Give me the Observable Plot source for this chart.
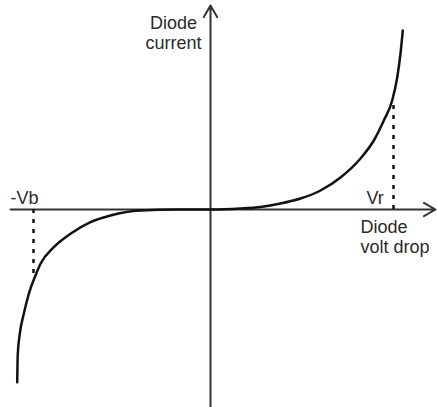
<!DOCTYPE html>
<html>
<head>
<meta charset="utf-8">
<script src="https://cdn.jsdelivr.net/npm/d3@7"></script>
<script src="https://cdn.jsdelivr.net/npm/@observablehq/plot@0.6"></script>
<style>
  html, body { margin: 0; padding: 0; background: #fff; }
  #chart svg { display: block; }
</style>
</head>
<body>
<div id="chart"></div>
<script>
// Diode characteristic (arbitrary units)
const voltage = [-19.33, -19.27, -19.07, -18.67, -18.17, -17.5, -17.0, -15.67, -14.0, -12.0, -10.0, -7.0, -3.3, 0,
                 3.0, 5.0, 7.0, 9.0, 11.0, 13.0, 15.0, 16.33, 17.33, 18.17, 18.67, 19.0, 19.23];
const current = [-17.27, -14.43, -12.43, -10.43, -8.43, -6.6, -5.43, -3.77, -2.43, -1.27, -0.6, -0.1, 0, 0,
                 0.1, 0.25, 0.6, 1.1, 1.9, 3.2, 5.1, 6.9, 8.9, 10.9, 13.2, 15.6, 17.9];
const curveData = voltage.map((v, i) => ({v, i: current[i]}));

// Marked voltages
const markerNames = ["-Vb", "Vr"];
const markerVoltage = [-17.7, 18.3];
const markerCurrent = [-6.7, 10.4];
const markers = markerNames.map((name, k) => ({name, v: markerVoltage[k], i: markerCurrent[k]}));

// Axis extents
const xAxisExtent = [-20, 22.5];
const yAxisExtent = [-19.8, 20.4];
const yAxisLabel = "Diode\ncurrent";
const xAxisLabel = "Diode\nvolt drop";

const ink = "#2a2a2a";
const font = "Liberation Sans, Arial, sans-serif";

const chart = Plot.plot({
  width: 437,
  height: 407,
  margin: 0,
  style: {background: "#fff", fontFamily: font},
  x: {domain: [-21, 22.7], axis: null},
  y: {domain: [-19.8, 20.9], axis: null},
  marks: [
    // axes with arrowheads
    Plot.arrow([{x1: xAxisExtent[0], x2: xAxisExtent[1], y1: 0, y2: 0}], {
      x1: "x1", x2: "x2", y1: "y1", y2: "y2",
      stroke: "#333", strokeWidth: 2, headLength: 10, headAngle: 60
    }),
    Plot.arrow([{x1: 0, x2: 0, y1: yAxisExtent[0], y2: yAxisExtent[1]}], {
      x1: "x1", x2: "x2", y1: "y1", y2: "y2",
      stroke: "#333", strokeWidth: 2, headLength: 10, headAngle: 60
    }),
    // dotted drop lines
    Plot.ruleX(markers, {
      x: "v", y1: 0, y2: "i",
      stroke: "#111", strokeWidth: 2.5, strokeDasharray: "4,6"
    }),
    // characteristic curve
    Plot.line(curveData, {
      x: "v", y: "i", curve: "monotone-x",
      stroke: "#111", strokeWidth: 2.5
    }),
    // labels
    Plot.text([markers[0]], {
      x: xAxisExtent[0], y: 0.6, text: "name",
      textAnchor: "start", lineAnchor: "bottom",
      fontSize: 18, fill: ink, fontFamily: font
    }),
    Plot.text([markers[1]], {
      x: 15.6, y: 0.6, text: "name",
      textAnchor: "start", lineAnchor: "bottom",
      fontSize: 18, fill: ink, fontFamily: font
    }),
    Plot.text([yAxisLabel], {
      x: -3.7, y: 16.05, text: d => d,
      textAnchor: "middle", lineAnchor: "bottom", lineHeight: 1.1,
      fontSize: 18, fill: ink, fontFamily: font
    }),
    Plot.text([xAxisLabel], {
      x: 15.0, y: -4.3, text: d => d,
      textAnchor: "start", lineAnchor: "bottom", lineHeight: 1.1,
      fontSize: 18, fill: ink, fontFamily: font
    })
  ]
});
document.getElementById("chart").appendChild(chart);
</script>
</body>
</html>
